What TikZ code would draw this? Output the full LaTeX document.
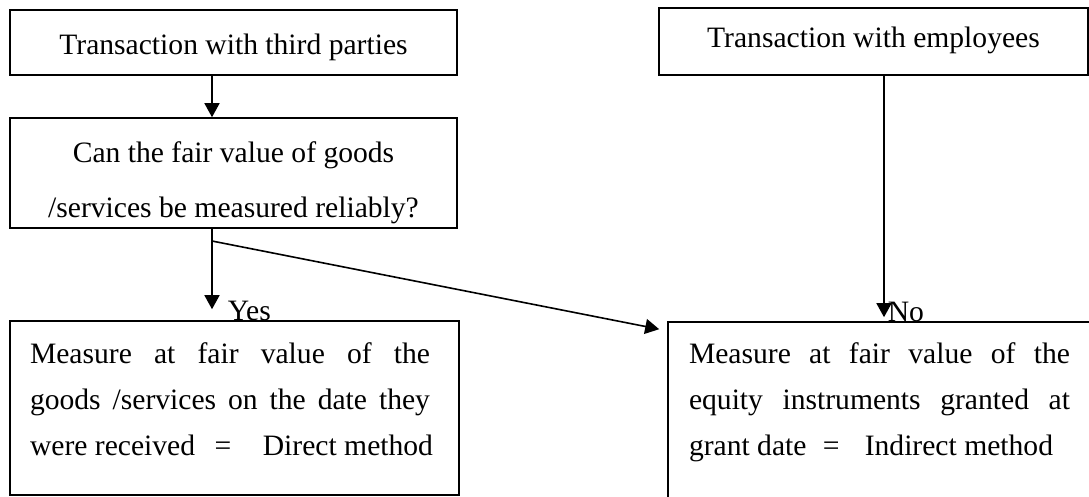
\documentclass[tikz,border=0pt]{standalone}
\usepackage{fontspec}
\setmainfont{Liberation Serif}
\usetikzlibrary{arrows.meta,calc}
% one text line stretched to #2 inside a slot of width #1 (spaces absorb the slack)
\newcommand\justline[3]{\makebox[#1][l]{\makebox[#2][s]{#3}}}
% flexible gaps around an equals sign
\newcommand\gapA{\hspace{0pt plus 1fill}}
\newcommand\gapB{\hspace{0pt plus 2fill}}
\begin{document}
\begin{tikzpicture}[x=1pt,y=-1pt,
  box/.style={draw, line width=1.6pt, rectangle, inner sep=0pt,
    font=\fontsize{29.6}{46}\selectfont},
  link/.style={line width=1.6pt, -{Triangle[length=14pt,width=15pt]}},
  tag/.style={inner sep=0pt, font=\fontsize{29.6}{35}\selectfont}]
\useasboundingbox (0,0) rectangle (1089,496);
\clip (0,0) rectangle (1089,496);

% starting transactions
\node[box, minimum width=447pt, minimum height=65pt, text height=29pt, text depth=5pt]
  (third) at (233.5,42.5) {Transaction with third parties};
\node[box, minimum width=429pt, minimum height=67pt, text height=22pt, text depth=11pt]
  (emp) at (873.5,41.5) {Transaction with employees};

% the question
\node[box, minimum width=447pt, minimum height=110pt, align=center,
  font=\fontsize{29.6}{55}\selectfont] (ask) at (233.5,173)
  {\rule{0pt}{40pt}Can the fair value of goods\\/services be measured reliably?\rule[-7pt]{0pt}{7pt}};

% the two measurement methods
\node[box, minimum width=449pt, minimum height=174pt, align=left] (direct) at (234.5,408)
  {\rule{0pt}{22pt}\justline{409pt}{400pt}{Measure at fair value of the}\\
   \justline{409pt}{400pt}{goods /services on the date they}\\
   \makebox[409pt][l]{\makebox[403pt][l]{were received \gapA= \gapB Direct method}}\rule[-20pt]{0pt}{20pt}};
\node[box, minimum width=423pt, minimum height=178pt, align=left] (indirect) at (879.5,411)
  {\rule{0pt}{22pt}\justline{381pt}{381pt}{Measure at fair value of the}\\
   \justline{381pt}{381pt}{equity instruments granted at}\\
   \makebox[381pt][l]{\makebox[364pt][l]{grant date \gapA= \gapB Indirect method}}\rule[-26pt]{0pt}{26pt}};

% connectors
\coordinate (fork) at (212,241);
\coordinate (drop) at ($(emp.south)+(10.5,0)$);
\draw[link] (third.south -| fork) -- (ask.north -| fork);
\draw[link, shorten >=11pt] (ask.south -| fork) -- (direct.north -| fork)
  node[tag, anchor=base west, xshift=15pt] (yes) {Yes};
\draw[link] (fork) -- ($(indirect.north west)+(-8,8)$);
\draw[link, shorten >=4pt] (drop) -- (indirect.north -| drop)
  node[tag, anchor=base west, xshift=3pt] (no) {No};
\end{tikzpicture}
\end{document}
